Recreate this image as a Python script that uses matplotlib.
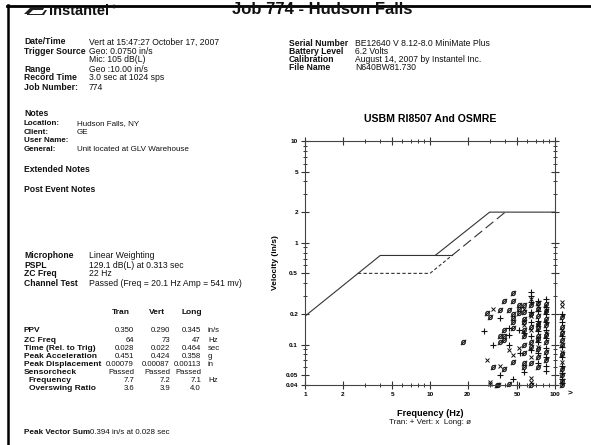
import matplotlib
matplotlib.use("Agg")
import matplotlib.pyplot as plt
from matplotlib.lines import Line2D
from matplotlib.patches import Polygon
from matplotlib.ticker import FixedLocator, NullFormatter

plt.rcParams['font.family'] = ['Liberation Sans', 'DejaVu Sans']

# ---------------- data ----------------
job_title = "Job 774 - Hudson Falls"
header_left_labels = ["Date/Time", "Trigger Source", "", "Range", "Record Time", "Job Number:"]
header_left_values = ["Vert at 15:47:27 October 17, 2007", "Geo: 0.0750 in/s", "Mic: 105 dB(L)",
                      "Geo :10.00 in/s", "3.0 sec at 1024 sps", "774"]
header_right_labels = ["Serial Number", "Battery Level", "Calibration", "File Name"]
header_right_values = ["BE12640 V 8.12-8.0 MiniMate Plus", "6.2 Volts",
                       "August 14, 2007 by Instantel Inc.", "N640BW81.730"]
notes_labels = ["Location:", "Client:", "User Name:", "General:"]
notes_values = ["Hudson Falls, NY", "GE", "", "Unit located at GLV Warehouse"]
mic_labels = ["Microphone", "PSPL", "ZC Freq", "Channel Test"]
mic_values = ["Linear Weighting", "129.1 dB(L) at 0.313 sec", "22 Hz",
              "Passed (Freq = 20.1 Hz Amp = 541 mv)"]

channels = ["Tran", "Vert", "Long"]
row_labels = ["PPV", "ZC Freq", "Time (Rel. to Trig)", "Peak Acceleration", "Peak Displacement",
              "Sensorcheck", "Frequency", "Overswing Ratio"]
tran_values = ["0.350", "64", "0.028", "0.451", "0.00079", "Passed", "7.7", "3.6"]
vert_values = ["0.290", "73", "0.022", "0.424", "0.00087", "Passed", "7.2", "3.9"]
long_values = ["0.345", "47", "0.464", "0.358", "0.00113", "Passed", "7.1", "4.0"]
row_units = ["in/s", "Hz", "sec", "g", "in", "", "Hz", ""]
pvs_text = "0.394 in/s at 0.028 sec"

# limit curves (frequency Hz, velocity in/s)
osmre_freq = [1, 4, 11, 30, 100]
osmre_vel = [0.19, 0.75, 0.75, 2.0, 2.0]
usbm_drywall_freq = [11, 15]
usbm_drywall_vel = [0.75, 0.75]
usbm_plaster_freq = [2.65, 10, 15]
usbm_plaster_vel = [0.5, 0.5, 0.75]
usbm_high_freq = [15, 40]
usbm_high_vel = [0.75, 2.0]

# scatter points (values > 100 Hz drawn just beyond the right axis)
tran_freq = [26.9, 32.0, 36.6, 36.6, 42.7, 42.7, 42.7, 46.5, 51.2, 51.2, 52.5, 56.9, 56.9,
             64, 64, 64, 64, 64, 64, 64,
             73.1, 73.1, 73.1, 73.1, 73.1, 73.1, 73.1,
             85.3, 85.3, 85.3, 85.3, 85.3, 85.3, 85.3, 85.3, 85.3, 85.3,
             113, 113, 113, 113, 113, 113, 113, 113, 113]
tran_vel = [0.137, 0.098, 0.183, 0.050, 0.145, 0.125, 0.100, 0.046, 0.139, 0.040, 0.083, 0.054, 0.130,
            0.330, 0.300, 0.260, 0.210, 0.165, 0.120, 0.088,
            0.270, 0.215, 0.170, 0.135, 0.105, 0.083, 0.066,
            0.280, 0.235, 0.200, 0.165, 0.140, 0.115, 0.092, 0.075, 0.062, 0.055,
            0.200, 0.165, 0.120, 0.095, 0.075, 0.062, 0.053, 0.046, 0.042]
vert_freq = [28.4, 30.1, 30.1, 32.0, 36.6, 42.7, 46.5, 51.2, 56.9, 56.9,
             64, 64, 64, 64, 64, 64,
             73.1, 73.1, 73.1,
             85.3, 85.3,
             113, 113, 113, 113, 113]
vert_vel = [0.071, 0.043, 0.041, 0.222, 0.061, 0.088, 0.078, 0.092, 0.225, 0.155,
            0.280, 0.190, 0.140, 0.075, 0.047, 0.043,
            0.240, 0.155, 0.095,
            0.220, 0.130,
            0.260, 0.240, 0.140, 0.085, 0.068]
long_freq = [18.3, 28.4, 30.1, 32.0, 34.1, 35.3, 36.6, 36.6, 36.6, 39.4, 39.4, 39.4, 39.4, 39.4,
             42.7, 42.7, 46.5, 46.5, 46.5, 46.5, 46.5, 46.5, 46.5,
             51.2, 51.2, 51.2,
             56.9, 56.9, 56.9, 56.9, 56.9, 56.9, 56.9, 56.9, 56.9, 56.9,
             64, 64, 64, 64, 64, 64, 64,
             73.1, 73.1, 73.1, 73.1, 73.1, 73.1, 73.1, 73.1, 73.1, 73.1,
             85.3, 85.3, 85.3, 85.3, 85.3, 85.3, 85.3, 85.3,
             113, 113, 113, 113, 113, 113, 113, 113, 113, 113]
long_vel = [0.107, 0.203, 0.188, 0.060, 0.040, 0.040, 0.219, 0.107, 0.122, 0.265, 0.139, 0.111, 0.057, 0.122,
            0.220, 0.041, 0.320, 0.265, 0.200, 0.183, 0.166, 0.145, 0.068,
            0.245, 0.225, 0.205,
            0.245, 0.210, 0.180, 0.165, 0.140, 0.120, 0.100, 0.083, 0.066, 0.060,
            0.245, 0.200, 0.150, 0.105, 0.095, 0.066, 0.040,
            0.255, 0.225, 0.190, 0.160, 0.145, 0.120, 0.113, 0.090, 0.075, 0.060,
            0.250, 0.215, 0.180, 0.155, 0.125, 0.105, 0.085, 0.070,
            0.185, 0.150, 0.130, 0.110, 0.100, 0.080, 0.058, 0.050, 0.044, 0.040]

y_major = [0.04, 0.05, 0.1, 0.2, 0.5, 1, 2, 5, 10]
y_major_labels = ["0.04", "0.05", "0.1", "0.2", "0.5", "1", "2", "5", "10"]
x_major = [1, 2, 5, 10, 20, 50, 100]
x_major_labels = ["1", "2", "5", "10", "20", "50", "100"]

# ---------------- figure ----------------
W, H = 591, 445
fig = plt.figure(figsize=(W / 100, H / 100), dpi=100)
fig.patch.set_facecolor('white')
FS = 6.2


def T(x, y, s, size=FS, weight='normal', ha='left', **kw):
    fig.text(x / W, 1 - y / H, s, fontsize=size, fontweight=weight, ha=ha, va='center',
             color='#111111', **kw)


# page border (scan)
fig.add_artist(Line2D([7 / W, 1], [1 - 6 / H, 1 - 6 / H], color='black', lw=2.0,
                      transform=fig.transFigure))
fig.add_artist(Line2D([8 / W, 8 / W], [1 - 5 / H, 0], color='black', lw=1.8,
                      transform=fig.transFigure))

# logo
logo_pts = [[(24, 14), (30, 8), (44, 8), (43, 10), (33, 10), (29, 14)],
            [(27, 14), (42, 14), (45, 10), (47, 10), (44, 15), (27, 15)]]
for pts in logo_pts:
    fig.add_artist(Polygon([(px / W, 1 - py / H) for px, py in pts], closed=True,
                           facecolor='#222222', edgecolor='none', transform=fig.transFigure))
T(49, 11, "Instantel", size=10.5, weight='bold')
T(112, 8, "®", size=4)
T(232, 9, job_title, size=12.0, weight='bold')

# header left
left_rows_y = [42, 51, 60, 69, 78, 87]
for y, lab, val in zip(left_rows_y, header_left_labels, header_left_values):
    T(24, y, lab, weight='bold')
    T(89, y, val)
right_rows_y = [43, 51, 60, 68]
for y, lab, val in zip(right_rows_y, header_right_labels, header_right_values):
    T(289, y, lab, weight='bold')
    T(355, y, val)

T(24, 113, "Notes", weight='bold')
notes_y = [124, 133, 141, 150]
for y, lab, val in zip(notes_y, notes_labels, notes_values):
    T(24, y, lab, size=5.8, weight='bold')
    T(77, y, val, size=5.8)
T(24, 170, "Extended Notes", weight='bold')
T(24, 190, "Post Event Notes", weight='bold')

mic_y = [256, 265, 274, 283]
for y, lab, val in zip(mic_y, mic_labels, mic_values):
    T(24, y, lab, weight='bold')
    T(89, y, val)

# table
TS = 5.6
col_centers = [121, 157, 192]
for cx, name in zip(col_centers, channels):
    T(cx, 313, name, weight='bold', ha='center', size=6.0)
row_y = [331, 340, 348, 356, 364, 372, 380, 388]
col_right = [134, 170, 201]
for i, (y, lab) in enumerate(zip(row_y, row_labels)):
    indent = 29 if lab in ("Frequency", "Overswing Ratio") else 24
    T(indent, y, lab, weight='bold', size=6.0)
    for xr, vals in zip(col_right, [tran_values, vert_values, long_values]):
        T(xr, y, vals[i], ha='right', size=TS)
    if row_units[i]:
        T(208, y, row_units[i], size=TS)

T(24, 433, "Peak Vector Sum", weight='bold', size=5.9)
T(90, 433, pvs_text, size=5.7)

# ---------------- chart ----------------
ax = fig.add_axes([305 / W, 1 - 385 / H, 250 / W, 244 / H])
ax.set_xscale('log')
ax.set_yscale('log')
ax.set_xlim(1, 100)
ax.set_ylim(0.04, 10)

lc = '#333333'
ax.plot(osmre_freq, osmre_vel, color=lc, lw=0.8)
ax.plot(usbm_drywall_freq, usbm_drywall_vel, color=lc, lw=0.8)
ax.plot(usbm_plaster_freq, usbm_plaster_vel, color=lc, lw=0.8, dashes=(3, 2))
ax.plot(usbm_high_freq, usbm_high_vel, color=lc, lw=0.8, dashes=(9, 4))

ax.plot(tran_freq, tran_vel, linestyle='none', marker='+', ms=4.0, mew=0.8,
        color='#111111', clip_on=False)
ax.plot(vert_freq, vert_vel, linestyle='none', marker='x', ms=3.0, mew=0.7,
        color='#111111', clip_on=False)
ax.plot(long_freq, long_vel, linestyle='none', marker='$ø$', ms=3.9, mew=0.3,
        color='#111111', clip_on=False)

for s in ax.spines.values():
    s.set_color('#444444')
    s.set_linewidth(0.8)

ax.xaxis.set_major_locator(FixedLocator(x_major))
ax.set_xticklabels(x_major_labels)
ax.yaxis.set_major_locator(FixedLocator(y_major))
ax.set_yticklabels(y_major_labels)
ax.xaxis.set_minor_formatter(NullFormatter())
ax.yaxis.set_minor_formatter(NullFormatter())
ax.tick_params(which='both', direction='inout', top=True, right=True, color='#333333',
               labelsize=4.6, pad=2)
ax.tick_params(which='major', length=6, width=0.8)
ax.tick_params(which='minor', length=3.5, width=0.7)
for lab in ax.get_xticklabels() + ax.get_yticklabels():
    lab.set_fontweight('bold')

ax.text(1.06, -0.035, ">", transform=ax.transAxes, fontsize=6, fontweight='bold',
        ha='center', va='center')

ax.set_title("USBM RI8507 And OSMRE", fontsize=7.6, fontweight='bold', pad=14)
ax.set_ylabel("Velocity (in/s)", fontsize=6.0, fontweight='bold', labelpad=5)
ax.set_xlabel("Frequency (Hz)", fontsize=6.6, fontweight='bold', labelpad=9)
T(430, 423, "Tran: + Vert: x  Long: ø", size=5.8, ha='center')

fig.savefig("out.png", dpi=100, facecolor='white')
